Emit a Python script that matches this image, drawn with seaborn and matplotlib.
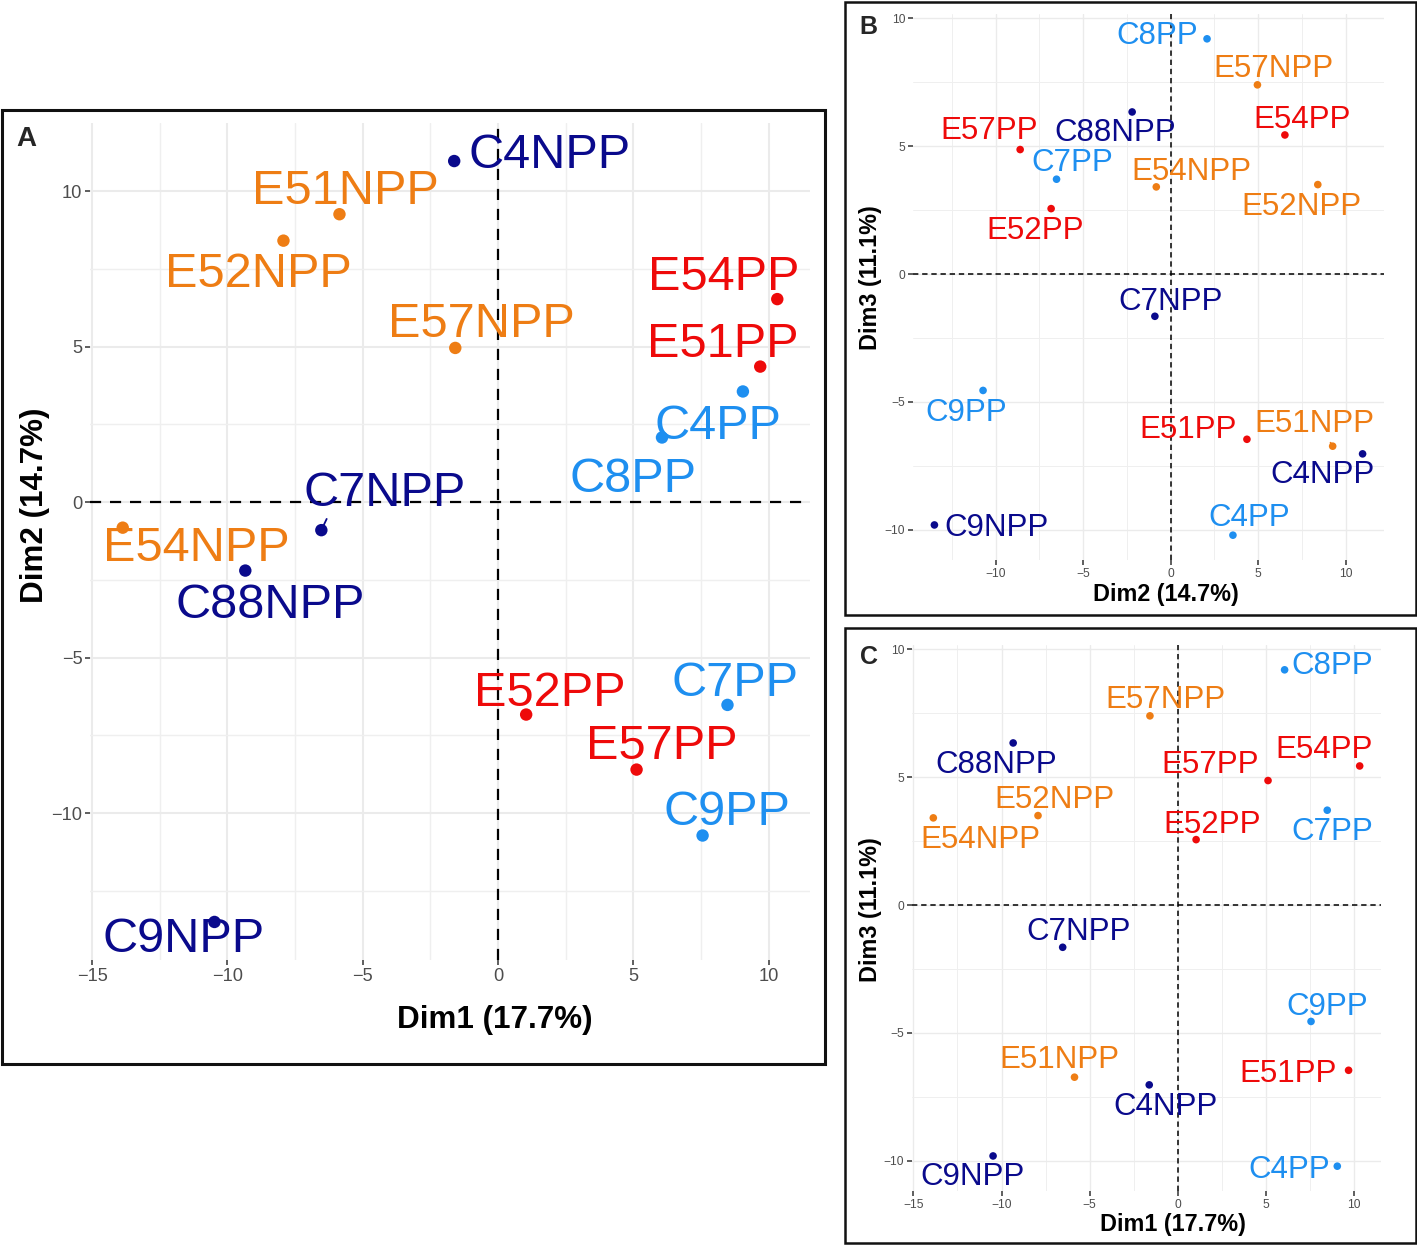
import numpy as np
import pandas as pd
import matplotlib
matplotlib.use('Agg')
import matplotlib.pyplot as plt
from matplotlib import font_manager
from matplotlib.patches import Rectangle
from matplotlib.ticker import MultipleLocator
import seaborn as sns

# PCA coordinates of the 16 samples
samples = ['C4NPP', 'C7NPP', 'C88NPP', 'C9NPP',
           'C4PP', 'C7PP', 'C8PP', 'C9PP',
           'E51NPP', 'E52NPP', 'E54NPP', 'E57NPP',
           'E51PP', 'E52PP', 'E54PP', 'E57PP']
groups = ['C-NPP'] * 4 + ['C-PP'] * 4 + ['E-NPP'] * 4 + ['E-PP'] * 4
dim1 = [-1.62, -6.53, -9.34, -10.48, 9.05, 8.48, 6.06, 7.56,
        -5.86, -7.93, -13.87, -1.58, 9.69, 1.04, 10.32, 5.12]
dim2 = [10.97, -0.90, -2.20, -13.50, 3.56, -6.52, 2.08, -10.72,
        9.26, 8.41, -0.82, 4.96, 4.36, -6.83, 6.53, -8.60]
dim3 = [-7.03, -1.65, 6.34, -9.81, -10.21, 3.71, 9.20, -4.55,
        -6.73, 3.50, 3.41, 7.40, -6.46, 2.56, 5.44, 4.87]

df = pd.DataFrame({'sample': samples, 'group': groups,
                   'Dim1': dim1, 'Dim2': dim2, 'Dim3': dim3})

palette = {'C-NPP': '#0A0A8C', 'C-PP': '#1E8FF0',
           'E-NPP': '#EE7D14', 'E-PP': '#EE0A0A'}

# repel-style label offsets (pixels, x right / y down) for each panel
off_a = {'C4NPP': (95, -11), 'E51NPP': (6, -28), 'E52NPP': (-25, 29),
         'E57NPP': (26, -28), 'E54PP': (-54, -27), 'E51PP': (-37, -27),
         'C4PP': (-25, 30), 'C8PP': (-29, 37), 'C7NPP': (63, -42),
         'E54NPP': (74, 16), 'C88NPP': (25, 30), 'E52PP': (24, -26),
         'C7PP': (8, -26), 'E57PP': (25, -28), 'C9PP': (24, -28),
         'C9NPP': (-31, 13)}
off_b = {'C8PP': (-50, -6), 'E57NPP': (16, -19), 'C88NPP': (-17, 18),
         'E54PP': (17, -18), 'E57PP': (-31, -22), 'C7PP': (16, -19),
         'E54NPP': (35, -18), 'E52NPP': (-16, 19), 'E52PP': (-16, 19),
         'C7NPP': (16, -18), 'C9PP': (-17, 19), 'E51PP': (-59, -13),
         'E51NPP': (-18, -25), 'C4NPP': (-40, 18), 'C9NPP': (62, 0),
         'C4PP': (16, -20)}
off_c = {'C8PP': (48, -7), 'E57NPP': (16, -19), 'C88NPP': (-17, 19),
         'E54PP': (-36, -19), 'E57PP': (-58, -19), 'C7PP': (5, 19),
         'E52NPP': (16, -19), 'E54NPP': (47, 19), 'E52PP': (16, -18),
         'C7NPP': (16, -19), 'C9PP': (16, -18), 'E51PP': (-61, 0),
         'E51NPP': (-15, -20), 'C4NPP': (16, 19), 'C9NPP': (-21, 18),
         'C4PP': (-48, 1)}

W, H = 1417, 1245

sns.set_theme(style='white')
names = {f.name for f in font_manager.fontManager.ttflist}
if 'Liberation Sans Narrow' in names:
    NARROW, nscale = 'Liberation Sans Narrow', 1.0
else:
    NARROW, nscale = 'Liberation Sans', 0.82
plt.rcParams['font.family'] = ['Liberation Sans', 'DejaVu Sans']


def rect(x0, y0, x1, y1):
    return [x0 / W, 1 - y1 / H, (x1 - x0) / W, (y1 - y0) / H]


fig = plt.figure(figsize=(W / 100, H / 100), dpi=100)


def panel(r, xcol, ycol, offsets, segs, lab_size, pt_size, tick_size,
          grid_w, dash, dash_w):
    ax = fig.add_axes(r)
    sns.scatterplot(data=df, x=xcol, y=ycol, hue='group', palette=palette,
                    s=pt_size, linewidth=0, legend=False, ax=ax, zorder=3)
    lims = []
    for col in (xcol, ycol):
        lo, hi = df[col].min(), df[col].max()
        pad = 0.05 * (hi - lo)
        lims.append((lo - pad, hi + pad))
    ax.set_xlim(*lims[0])
    ax.set_ylim(*lims[1])
    for a in (ax.xaxis, ax.yaxis):
        a.set_major_locator(MultipleLocator(5))
        a.set_minor_locator(MultipleLocator(2.5))
    ax.grid(which='major', color='#EBEBEB', lw=grid_w)
    ax.grid(which='minor', color='#EFEFEF', lw=grid_w * 0.7)
    ax.set_axisbelow(True)
    for s in ax.spines.values():
        s.set_visible(False)
    ax.tick_params(which='major', bottom=True, left=True, length=3.5,
                   width=1.1, color='#333333', labelsize=tick_size,
                   labelcolor='#4D4D4D', pad=2)
    ax.tick_params(which='minor', bottom=False, left=False, length=0)
    ax.axhline(0, color='black', ls=(0, dash), lw=dash_w, zorder=2)
    ax.axvline(0, color='black', ls=(0, dash), lw=dash_w, zorder=2)
    ax.set_xlabel('')
    ax.set_ylabel('')
    cap = 0.72 * lab_size * 100 / 72
    for name, g, x, y in zip(df['sample'], df['group'], df[xcol], df[ycol]):
        dx, dy = offsets[name]
        kw = {}
        if name in segs:
            kw['arrowprops'] = dict(arrowstyle='-', color=palette[g], lw=1.3,
                                    shrinkA=0, shrinkB=0, relpos=segs[name])
        ax.annotate(name, (x, y), xytext=(dx, -(dy + cap / 2)),
                    textcoords='offset pixels', ha='center', va='baseline',
                    fontsize=lab_size, color=palette[g], zorder=4,
                    annotation_clip=False, **kw)
    for t in ax.get_xticklabels() + ax.get_yticklabels():
        t.set_fontfamily(NARROW)
    return ax


ax_a = panel(rect(90, 123, 810, 960), 'Dim1', 'Dim2', off_a,
             {'C7NPP': (0.17, 0.12)}, 35, 80, 16 * nscale, 1.5, (5, 4), 1.6)
ax_b = panel(rect(913, 14, 1384, 560), 'Dim2', 'Dim3', off_b,
             {'E51NPP': (0.6, 0.1)}, 22.5, 30, 10.5 * nscale, 1.0,
             (3.5, 2.5), 1.1)
ax_c = panel(rect(912, 645, 1381, 1191), 'Dim1', 'Dim3', off_c, {},
             22.5, 30, 10.5 * nscale, 1.0, (3.5, 2.5), 1.1)


def ftext(x, y, s, size, **kw):
    fig.text(x / W, 1 - y / H, s, fontsize=size, ha='center', va='center', **kw)


# axis titles
tkw = dict(fontweight='bold', family=NARROW, color='black')
ftext(495, 1020, 'Dim1 (17.7%)', 27.5 * nscale, **tkw)
ftext(35, 505, 'Dim2 (14.7%)', 27.5 * nscale, rotation=90, **tkw)
ftext(1166, 595, 'Dim2 (14.7%)', 20.5 * nscale, **tkw)
ftext(871, 278, 'Dim3 (11.1%)', 20.5 * nscale, rotation=90, **tkw)
ftext(1173, 1224, 'Dim1 (17.7%)', 20.5 * nscale, **tkw)
ftext(871, 910, 'Dim3 (11.1%)', 20.5 * nscale, rotation=90, **tkw)

# panel letters
ftext(26, 139, 'A', 20, fontweight='bold')
ftext(868, 27, 'B', 18, fontweight='bold')
ftext(869, 657, 'C', 18, fontweight='bold')

# panel frames
for (x0, y0, x1, y1), lw in (((2, 110, 825, 1064), 2.2),
                             ((845, 2, 1416, 615), 1.8),
                             ((845, 628, 1416, 1243), 1.8)):
    fig.patches.append(Rectangle((x0 / W, 1 - y1 / H), (x1 - x0) / W,
                                 (y1 - y0) / H, transform=fig.transFigure,
                                 fill=False, edgecolor='#111111', lw=lw))

fig.savefig('out.png', dpi=100)
